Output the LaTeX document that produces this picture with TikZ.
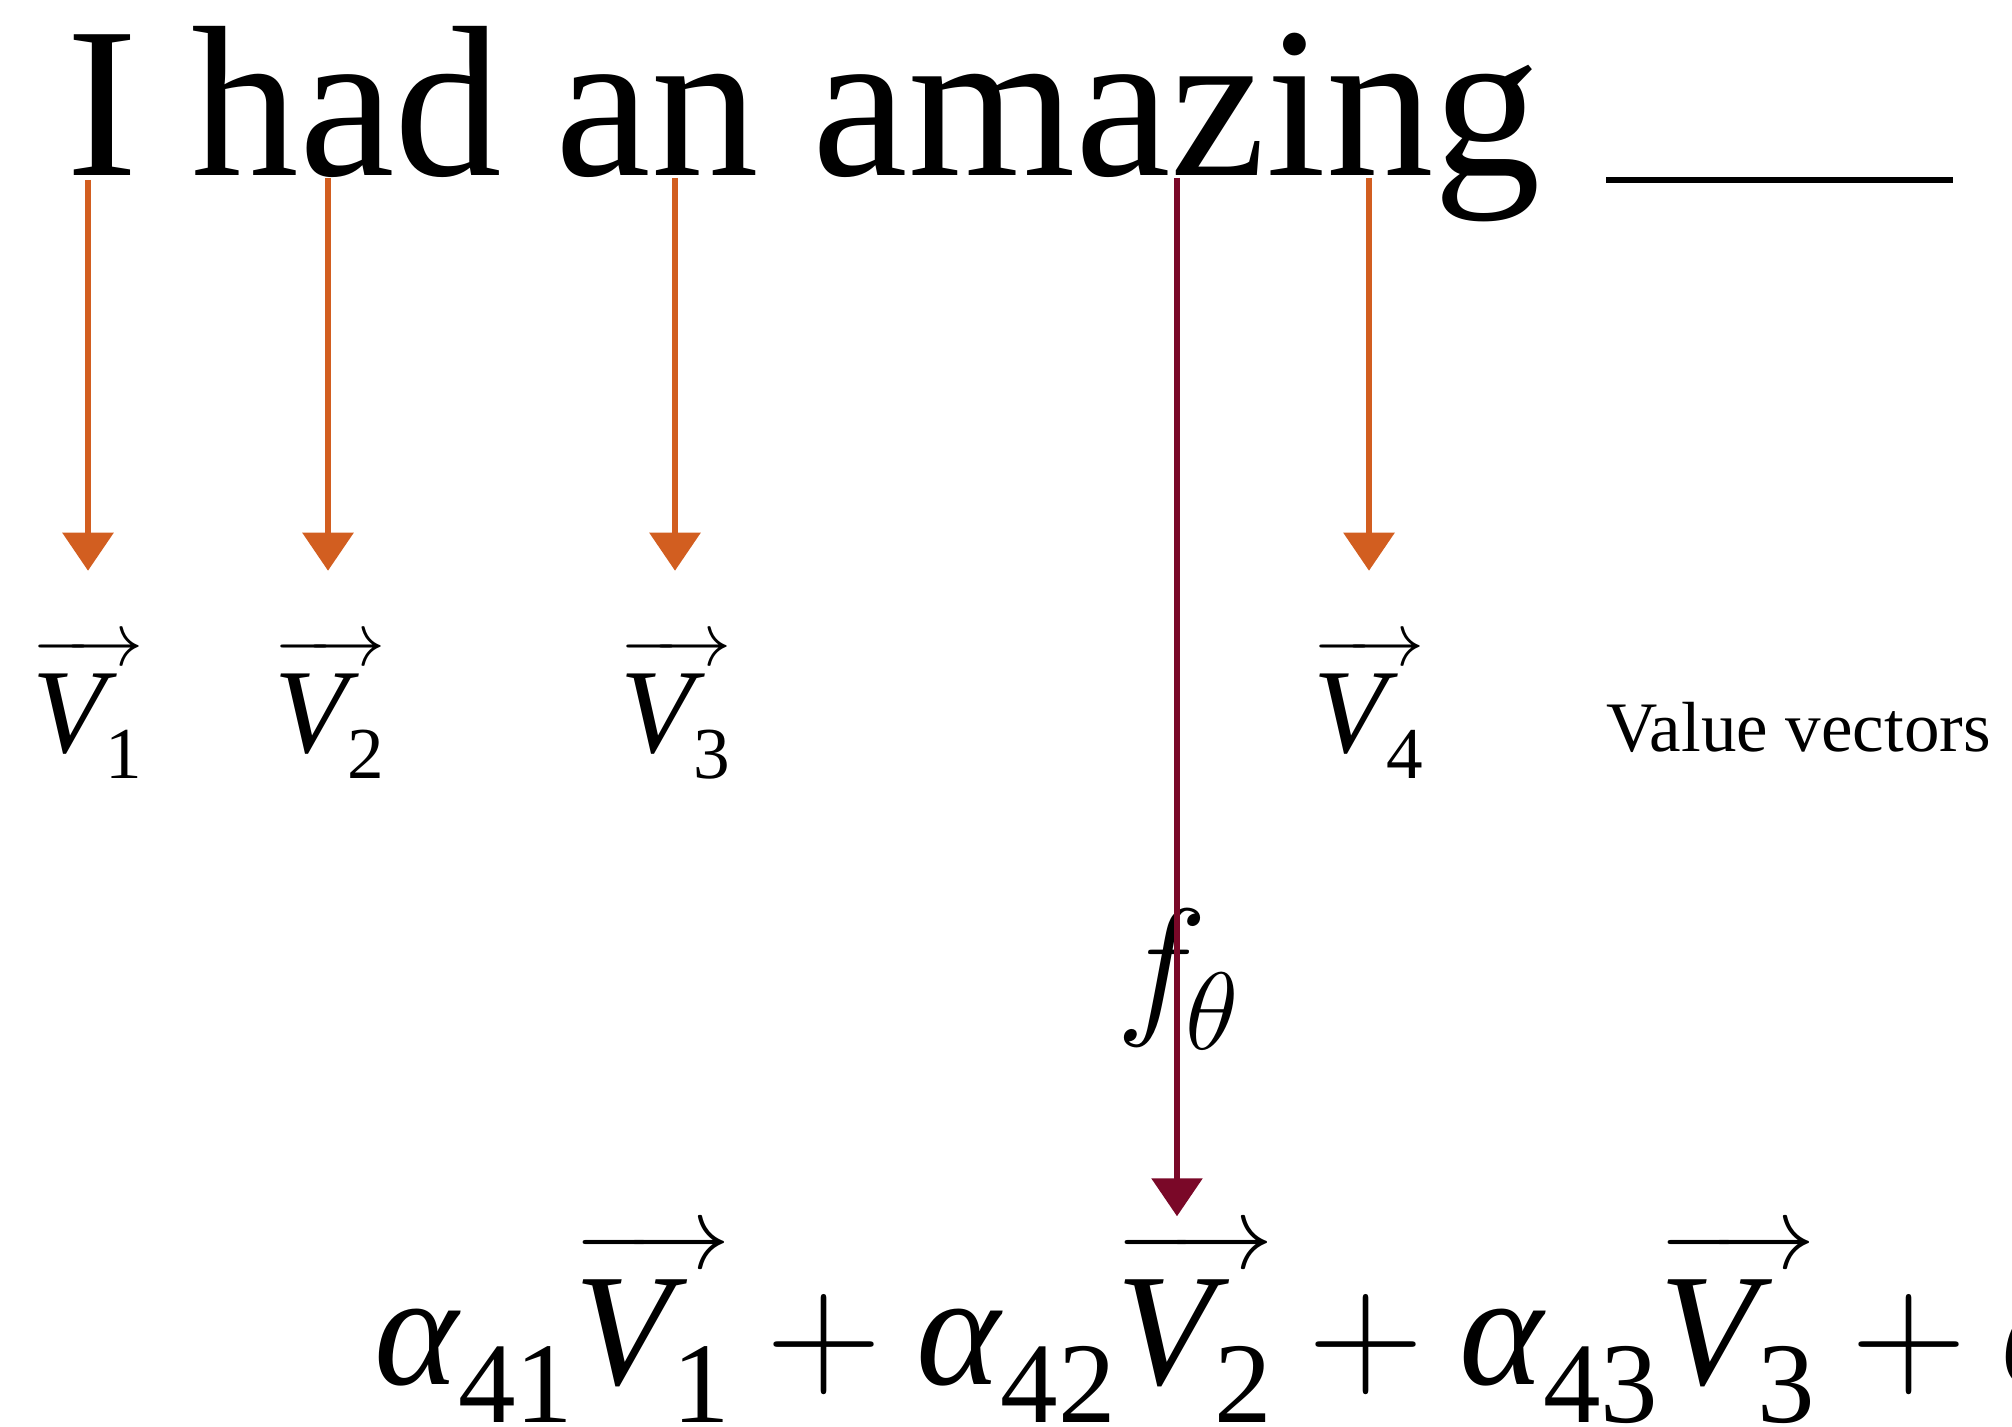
\documentclass[tikz,border=0pt]{standalone}
\usepackage{fix-cm}
\usepackage{amsmath}
\usepackage{fontspec}
\setmainfont{Liberation Serif}
\usetikzlibrary{arrows.meta}
\definecolor{vorange}{RGB}{210,94,32}
\definecolor{vred}{RGB}{122,8,40}
\newcommand{\VV}{\mbox{\itshape V}}
\newcommand{\AL}{\mbox{\itshape α}}
% vector arrow: #1 arrow font size, #2 gap, #3 math content
\newcommand{\ovr}[3]{\mbox{\setbox0\hbox{$#3$}%
  \vbox{\offinterlineskip\hbox to\wd0{\fontsize{#1}{#1}\selectfont\rightarrowfill}\kern#2\box0}}}
% subscripts: #1 drop, #2 size, #3 text
\newcommand{\sbx}[3]{\raisebox{-#1}{\fontsize{#2}{#2}\selectfont #3}}
\newcommand{\lab}[1]{\ovr{38}{4.2pt}{\VV_{\sbx{4pt}{36.6}{#1}}}}
\newcommand{\term}[2]{\AL_{\sbx{7pt}{57.5}{#1}}\ovr{52}{5.2pt}{\VV_{\sbx{7pt}{57.5}{#2}}}}
\tikzset{
  veclabel/.style={inner sep=0pt, anchor=base, font=\fontsize{60}{60}\selectfont},
  oarr/.style={vorange, line width=3pt, -{Triangle[width=25pt,length=19pt]}},
  rarr/.style={vred, line width=3pt, -{Triangle[width=25pt,length=19pt]}},
}
\begin{document}
\begin{tikzpicture}[x=0.5pt,y=-0.5pt]
\useasboundingbox (0,0) rectangle (2012,1427);
\node[inner sep=0pt, anchor=base west, font=\fontsize{107.5}{110}\selectfont] (title) at (66,176) {I had an amazing};
\node[inner sep=0pt, anchor=north west] (blank) at (1606,177) {\rule{173.5pt}{3pt}};
% start points under the words
\coordinate (s1) at (88,180);
\coordinate (s2) at (328,178);
\coordinate (s3) at (675,178);
\coordinate (s4) at (1369,178);
\coordinate (s5) at (1177,178);
% value vectors
\node[veclabel] (v1) at (88,752) {$\lab{1}$};
\node[veclabel] (v2) at (330,752) {$\lab{2}$};
\node[veclabel] (v3) at (676,752) {$\lab{3}$};
\node[veclabel] (v4) at (1369,752) {$\lab{4}$};
\node[inner sep=0pt, anchor=base west, font=\fontsize{35.5}{36}\selectfont] (vv) at (1606,751) {Value vectors};
% f theta
\node[inner sep=0pt, anchor=base, font=\fontsize{77}{77}\selectfont] (f) at (1178,1016)
  {$f_{\kern-3pt\raisebox{-5pt}{\fontsize{55}{55}\selectfont$\theta$}}$};
% equation
\begin{scope}
\clip (0,0) rectangle (2012,1427);
\node[inner sep=0pt, anchor=base west, font=\fontsize{80}{82}\selectfont] (eq) at (374,1384)
  {$\term{41}{1}+\term{42}{2}+\term{43}{3}+\term{44}{4}$};
\end{scope}
% arrows
\draw[oarr, shorten >=33pt] (s1) -- (v1.north -| s1);
\draw[oarr, shorten >=33pt] (s2) -- (v2.north -| s2);
\draw[oarr, shorten >=33pt] (s3) -- (v3.north -| s3);
\draw[oarr, shorten >=33pt] (s4) -- (v4.north -| s4);
\draw[rarr, shorten >=7pt] (s5) -- (eq.north -| s5);
\end{tikzpicture}
\end{document}
